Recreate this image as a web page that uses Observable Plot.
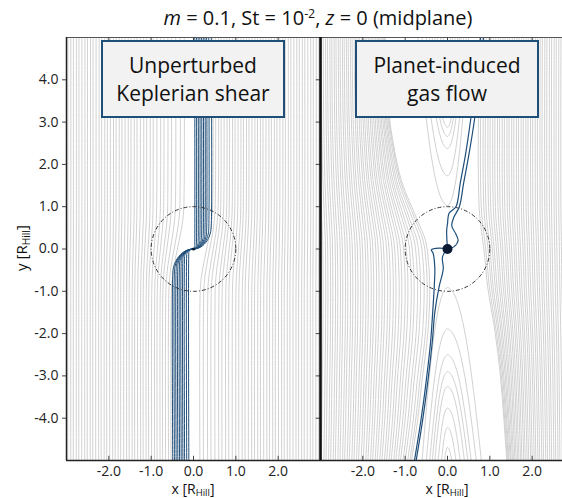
<!DOCTYPE html>
<html><head><meta charset="utf-8">
<script src="https://cdn.jsdelivr.net/npm/d3@7"></script>
<script src="https://cdn.jsdelivr.net/npm/@observablehq/plot@0.6"></script>
<style>
body{margin:0;background:#fff;}
#wrap{position:relative;width:562px;height:498px;overflow:hidden;font-family:"Open Sans",sans-serif;color:#111;}
.t{position:absolute;white-space:nowrap;}
.box{position:absolute;box-sizing:border-box;border:2px solid #1f4e79;background:#f2f2f2;display:flex;align-items:center;justify-content:center;text-align:center;font-size:21px;line-height:28px;color:#111;}
sub{font-size:0.68em;vertical-align:-0.25em;}
sup{font-size:0.62em;vertical-align:0.55em;}
</style></head><body><div id="wrap"></div>
<script>
// ---------------- data ----------------
const yTicks = [-4, -3, -2, -1, 0, 1, 2, 3, 4];
const xTicks = [-2, -1, 0, 1, 2];
const hillRadius = 1;

// Left panel: unperturbed Keplerian shear (gray particle streamlines)
const keplerInnerSeeds = [-2.97,-2.90,-2.84,-2.77,-2.71,-2.64,-2.57,-2.51,-2.44,-2.38,-2.31,-2.24,-2.18,-2.11,-2.05,-1.98,-1.91,-1.85,-1.78,-1.72,-1.65,-1.58,-1.52,-1.45,-1.39,-1.32,-1.25,-1.19,-1.12,-1.06,-0.99,-0.92,-0.86,-0.79,-0.73,-0.66,-0.59,-0.53];
const keplerInnerBoundaryY = [-5,-1.5,-0.8,-0.4,0,0.4,0.8,1.5,5];
const keplerInnerBoundaryX = [-0.53,-0.53,-0.51,-0.46,-0.38,-0.30,-0.24,-0.22,-0.22];
const keplerOuterSeeds = [0.46,0.52,0.59,0.65,0.72,0.79,0.85,0.92,0.98,1.05,1.12,1.18,1.25,1.31,1.38,1.45,1.51,1.58,1.64,1.71,1.78,1.84,1.91,1.97,2.04,2.11,2.17,2.24,2.30,2.37,2.44,2.50,2.57,2.63,2.70,2.77,2.83,2.90,2.96];
const keplerOuterBoundaryY = [5,1.5,0.8,0.4,0,-0.4,-0.8,-1.5,-5];
const keplerOuterBoundaryX = [0.46,0.46,0.44,0.39,0.31,0.23,0.17,0.15,0.15];
const keplerDecay = [0.5, 0.7];

// Left panel: accreted particle trajectories (blue)
const accretedTopX = [0.03,0.07,0.11,0.15,0.19,0.23,0.27,0.31,0.36,0.42];
const accretedTopTurnY = [0.08,0.12,0.17,0.22,0.27,0.32,0.37,0.42,0.48,0.55];
const accretedBottomX = [-0.49,-0.45,-0.41,-0.37,-0.33,-0.29,-0.25,-0.21,-0.16,-0.11];
const accretedBottomTurnY = [0.60,0.54,0.48,0.42,0.36,0.30,0.24,0.18,0.13,0.08];
const arcSin = [1, 0.966, 0.866, 0.707, 0.5, 0.259, 0];
const arcOneMinusCos = [1, 0.741, 0.5, 0.293, 0.134, 0.034, 0];

// Right panel: planet-induced gas flow, passing streamlines
const flowInnerSeeds = [-2.98,-2.92,-2.87,-2.81,-2.76,-2.70,-2.65,-2.59,-2.54,-2.48,-2.43,-2.37,-2.32,-2.26,-2.21,-2.15,-2.10,-2.04,-1.99,-1.93,-1.88,-1.82,-1.77,-1.71,-1.66,-1.60,-1.55,-1.49,-1.44,-1.38,-1.33,-1.27,-1.22,-1.16,-1.11,-1.05,-1.00,-0.94,-0.89,-0.85];
const flowInnerBoundaryY = [-5,-4,-3.1,-1.94,-0.9,-0.3,0.2,0.7,1.62,2.5,3.1,4,5];
const flowInnerBoundaryX = [-0.85,-0.70,-0.60,-0.46,-0.42,-0.45,-0.52,-0.72,-1.09,-1.28,-1.37,-1.43,-1.47];
const flowOuterSeeds = [0.76,0.81,0.87,0.92,0.98,1.03,1.09,1.14,1.20,1.25,1.31,1.36,1.42,1.47,1.53,1.58,1.64,1.69,1.75,1.80,1.86,1.91,1.97,2.02,2.08,2.13,2.19,2.24,2.30,2.35,2.41,2.46,2.52,2.57,2.63,2.68,2.74,2.79,2.85,2.90,2.96,3.01];
const flowOuterBoundaryY = [5,4,3.1,1.62,0.8,0.3,-0.2,-0.9,-1.94,-3,-4,-5];
const flowOuterBoundaryX = [0.76,0.74,0.73,0.73,0.76,0.82,0.88,0.95,1.12,1.25,1.33,1.40];
const flowDecay = 0.9;

// Right panel: horseshoe streamlines
const hsUpperApexY = [1.02,1.73,2.37,2.66,2.88,3.2,3.6,4.1,4.6];
const hsUpperLeftW = [0.70,0.60,0.50,0.42,0.36,0.30,0.24,0.16,0.10];
const hsUpperRightW = [0.50,0.44,0.38,0.32,0.28,0.24,0.18,0.12,0.07];
const hsLowerApexY = [-0.91,-1.89,-2.5,-2.9,-3.25,-3.76,-4.22,-4.69];
const hsLowerLeftW = [0.60,0.50,0.42,0.36,0.30,0.22,0.14,0.07];
const hsLowerRightW = [0.80,0.68,0.56,0.48,0.40,0.30,0.20,0.10];
const uFrac = [1, 0.6, 0.3, 0.12, 0.03, 0];
const uWidth = [1, 0.77, 0.55, 0.35, 0.17, 0];

// Right panel: accreted particle trajectories
const pathAX = [0.85,0.74,0.64,0.50,0.38,0.28,0.15,0.10,0.20,0.25,0.15,0];
const pathAY = [5,4,3.08,2.2,1.55,1.0,0.75,0.55,0.35,0.20,0.05,0];
const pathBX = [0.78,0.66,0.55,0.42,0.30,0.20,0.04,0.0,-0.02,0.0];
const pathBY = [5,4,3.08,2.2,1.55,1.0,0.85,0.6,0.43,0];
const pathCX = [-0.78,-0.62,-0.50,-0.40,-0.35,-0.31,-0.30,-0.34,-0.38,-0.20,0];
const pathCY = [-5,-4,-3.1,-2.2,-1.5,-0.83,-0.44,-0.10,-0.02,0.02,0];
const pathDX = [-0.74,-0.58,-0.46,-0.36,-0.30,-0.20,-0.10,-0.12,-0.05,0];
const pathDY = [-5,-4,-3.1,-2.2,-1.5,-0.9,-0.47,-0.2,-0.05,0];

// ---------------- build tables ----------------
function shiftedFamily(seeds, knotY, boundaryX, lambda, prefix) {
  const rows = [], b0 = boundaryX[0];
  seeds.forEach((s, i) => {
    const w = Math.exp(-Math.abs(s - b0) / lambda);
    knotY.forEach((y, k) => rows.push({id: prefix + i, x: s + (boundaryX[k] - b0) * w, y}));
  });
  return rows;
}
const keplerLines = [
  ...shiftedFamily(keplerInnerSeeds, keplerInnerBoundaryY, keplerInnerBoundaryX, keplerDecay[0], "ki"),
  ...shiftedFamily(keplerOuterSeeds, keplerOuterBoundaryY, keplerOuterBoundaryX, keplerDecay[1], "ko")
];
const accreted = [];
accretedTopX.forEach((a, i) => {
  const b = accretedTopTurnY[i];
  accreted.push({id: "t" + i, x: a, y: 5});
  arcSin.forEach((s, k) => accreted.push({id: "t" + i, x: a * s, y: b * arcOneMinusCos[k]}));
});
accretedBottomX.forEach((a, i) => {
  const b = accretedBottomTurnY[i];
  accreted.push({id: "b" + i, x: a, y: -5});
  arcSin.forEach((s, k) => accreted.push({id: "b" + i, x: a * s, y: -b * arcOneMinusCos[k]}));
});

const flowLines = [
  ...shiftedFamily(flowInnerSeeds, flowInnerBoundaryY, flowInnerBoundaryX, flowDecay, "fi"),
  ...shiftedFamily(flowOuterSeeds, flowOuterBoundaryY, flowOuterBoundaryX, flowDecay, "fo")
];
function horseshoe(apex, wl, wr, edge, prefix) {
  const rows = [];
  apex.forEach((ya, j) => {
    const L = edge - ya;
    for (let k = 0; k < uFrac.length; k++) rows.push({id: prefix + j, x: -wl[j] * uWidth[k], y: ya + L * uFrac[k]});
    for (let k = uFrac.length - 2; k >= 0; k--) rows.push({id: prefix + j, x: wr[j] * uWidth[k], y: ya + L * uFrac[k]});
  });
  return rows;
}
const hsLines = [
  ...horseshoe(hsUpperApexY, hsUpperLeftW, hsUpperRightW, 5, "hu"),
  ...horseshoe(hsLowerApexY, hsLowerLeftW, hsLowerRightW, -5, "hl")
];
const flowAccreted = [];
[[pathAX, pathAY], [pathBX, pathBY], [pathCX, pathCY], [pathDX, pathDY]].forEach(([xs, ys], p) =>
  xs.forEach((x, k) => flowAccreted.push({id: "p" + p, x, y: ys[k]})));

// ---------------- layout ----------------
const wrap = document.getElementById("wrap");
const mTop = 37, mBottom = 38, leftW = 320, mLeft = 66;
const pxPerUnit = (leftW - mLeft) / 6;
const rightW = 562 - leftW;
const rightXMax = -3 + rightW / pxPerUnit;
const fmt = d => d.toFixed(1);
const gray = "#c9c9c9", blue = "#1f4e79";
const baseStyle = {background: "transparent", overflow: "visible", fontFamily: "Open Sans, sans-serif", fontSize: "14px", color: "#222"};

const leftPlot = Plot.plot({
  width: leftW, height: 498,
  marginLeft: mLeft, marginRight: 0, marginTop: mTop, marginBottom: mBottom,
  x: {domain: [-3, 3], axis: null},
  y: {domain: [-5, 5], axis: null},
  style: baseStyle,
  marks: [
    Plot.line(keplerLines, {x: "x", y: "y", z: "id", stroke: gray, strokeWidth: 0.85, curve: "catmull-rom", clip: true}),
    Plot.line(accreted, {x: "x", y: "y", z: "id", stroke: blue, strokeWidth: 1, curve: "catmull-rom", clip: true}),
    Plot.dot([{x: 0, y: 0}], {x: "x", y: "y", r: hillRadius * pxPerUnit, stroke: "#333", fill: "none", strokeWidth: 1, strokeDasharray: "4,2,1,2"}),
    Plot.dot([{x: 0, y: 0}], {x: "x", y: "y", r: 1.5, fill: "#0b1a33"}),
    Plot.ruleY([5], {stroke: "#555", strokeWidth: 1}),
    Plot.ruleX([-3], {stroke: "#222", strokeWidth: 1.5}),
    Plot.ruleY([-5], {stroke: "#222", strokeWidth: 1.5}),
    Plot.ruleX(xTicks, {x: d => d, y1: -5, y2: -4.9, stroke: "#444"}),
    Plot.ruleX(xTicks, {x: d => d, y1: 5, y2: 4.9, stroke: "#444"}),
    Plot.ruleY(yTicks, {y: d => d, x1: 2.9, x2: 3, stroke: "#444"}),
    Plot.axisY(yTicks, {anchor: "left", tickSize: 4, tickPadding: 4, tickFormat: fmt, label: null, stroke: "#444"}),
    Plot.axisX(xTicks, {anchor: "bottom", tickSize: 0, tickPadding: 6, tickFormat: fmt, label: null})
  ]
});
leftPlot.style.position = "absolute"; leftPlot.style.left = "0px"; leftPlot.style.top = "0px";
wrap.appendChild(leftPlot);

const rightPlot = Plot.plot({
  width: rightW, height: 498,
  marginLeft: 0, marginRight: 0, marginTop: mTop, marginBottom: mBottom,
  x: {domain: [-3, rightXMax], axis: null},
  y: {domain: [-5, 5], axis: null},
  style: baseStyle,
  marks: [
    Plot.line(flowLines, {x: "x", y: "y", z: "id", stroke: gray, strokeWidth: 0.85, curve: "catmull-rom", clip: true}),
    Plot.line(hsLines, {x: "x", y: "y", z: "id", stroke: gray, strokeWidth: 0.85, curve: "catmull-rom", clip: true}),
    Plot.dot([{x: 0, y: 0}], {x: "x", y: "y", r: hillRadius * pxPerUnit, stroke: "#333", fill: "none", strokeWidth: 1, strokeDasharray: "4,2,1,2"}),
    Plot.line(flowAccreted, {x: "x", y: "y", z: "id", stroke: blue, strokeWidth: 1.2, curve: "catmull-rom", clip: true}),
    Plot.dot([{x: 0, y: 0}], {x: "x", y: "y", r: 5, fill: "#0b1a33"}),
    Plot.ruleY([5], {stroke: "#555", strokeWidth: 1}),
    Plot.ruleY([-5], {stroke: "#222", strokeWidth: 1.5}),
    Plot.ruleX(xTicks, {x: d => d, y1: -5, y2: -4.9, stroke: "#444"}),
    Plot.ruleX(xTicks, {x: d => d, y1: 5, y2: 4.9, stroke: "#444"}),
    Plot.ruleX([-3], {stroke: "#111", strokeWidth: 2.6}),
    Plot.axisX(xTicks, {anchor: "bottom", tickSize: 0, tickPadding: 6, tickFormat: fmt, label: null})
  ]
});
rightPlot.style.position = "absolute"; rightPlot.style.left = leftW + "px"; rightPlot.style.top = "0px";
wrap.appendChild(rightPlot);

// ---------------- text ----------------
function addHTML(html, css, cls = "t") {
  const d = document.createElement("div");
  d.className = cls; d.innerHTML = html; Object.assign(d.style, css); wrap.appendChild(d); return d;
}
addHTML('<i>m</i> = 0.1, St = 10<sup>-2</sup>, <i>z</i> = 0 (midplane)', {left: "118px", width: "400px", top: "4px", textAlign: "center", fontSize: "20px"});
addHTML('Unperturbed<br>Keplerian shear', {left: "101px", top: "40px", width: "184px", height: "78px"}, "box");
addHTML('Planet-induced<br>gas flow', {left: "355px", top: "40px", width: "184px", height: "78px"}, "box");
const zeroL = mLeft + 3 * pxPerUnit, zeroR = leftW + 3 * pxPerUnit;
addHTML('x [R<sub>Hill</sub>]', {left: (zeroL - 60) + "px", width: "120px", top: "481px", textAlign: "center", fontSize: "14px", lineHeight: "15px"});
addHTML('x [R<sub>Hill</sub>]', {left: (zeroR - 60) + "px", width: "120px", top: "481px", textAlign: "center", fontSize: "14px", lineHeight: "15px"});
addHTML('y [R<sub>Hill</sub>]', {left: (21 - 60) + "px", width: "120px", top: (248 - 10) + "px", height: "20px", lineHeight: "20px", textAlign: "center", fontSize: "15px", transform: "rotate(-90deg)"});
</script>
</body></html>
